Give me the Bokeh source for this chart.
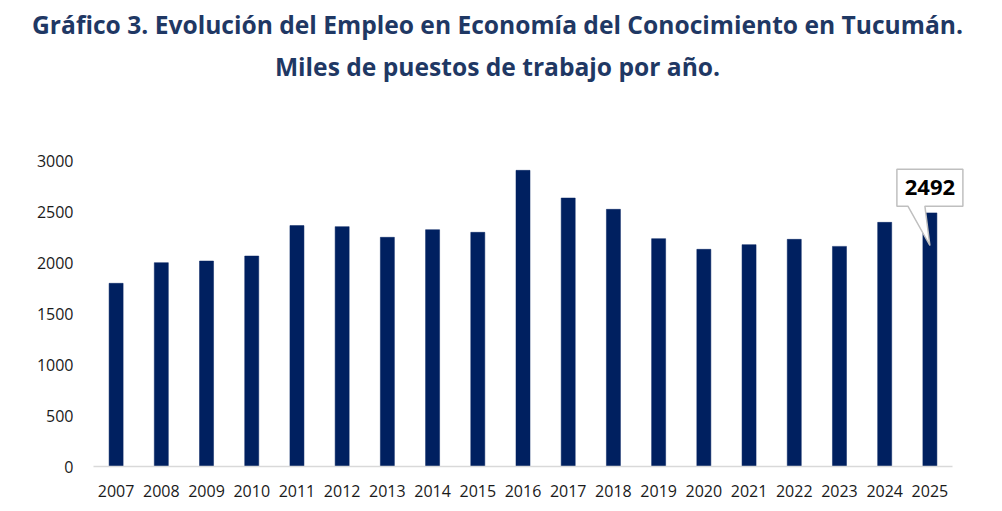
from bokeh.plotting import figure
from bokeh.models import Range1d, FixedTicker, Label, ColumnDataSource, CustomJSTickFormatter, Div
from bokeh.layouts import column
from bokeh.embed import file_html
from bokeh.resources import INLINE

# ---- data ----
years = ["2007", "2008", "2009", "2010", "2011", "2012", "2013", "2014", "2015", "2016",
         "2017", "2018", "2019", "2020", "2021", "2022", "2023", "2024", "2025"]
values = [1800, 2003, 2019, 2068, 2367, 2357, 2252, 2327, 2301, 2910,
          2638, 2527, 2239, 2134, 2180, 2232, 2163, 2399, 2492]
y_ticks = [0, 500, 1000, 1500, 2000, 2500, 3000]
title_line1 = "Gráfico 3. Evolución del Empleo en Economía del Conocimiento en Tucumán."
title_line2 = "Miles de puestos de trabajo por año."
callout_year = "2025"

TITLE_COLOR = "#1F3864"
BAR_COLOR = "#002060"

# ---- layout ----
W, H = 1002, 511
TITLE_H = 95
CH = H - TITLE_H
LEFT, BOTTOM = 93, 45
frame_h = CH - BOTTOM
px_per_unit = 305.3 / 3000.0
y_end = frame_h / px_per_unit
px_per_cat = 859.0 / len(years)
x_end = (W - LEFT) / px_per_cat

# ---- title (HTML text) ----
title_html = (
    '<div style="box-sizing:border-box;width:995px;margin:0;padding-top:3.9px;'
    'text-align:center;font-family:\'Open Sans\';font-weight:bold;font-size:24.6px;'
    'line-height:41.7px;color:%s;white-space:nowrap;">%s<br>%s</div>'
    % (TITLE_COLOR, title_line1, title_line2)
)
t = Div(text=title_html, width=W, height=TITLE_H, margin=0)

# ---- chart ----
p = figure(width=W, height=CH,
           x_range=Range1d(0, x_end), y_range=Range1d(0, y_end),
           output_backend="svg", toolbar_location=None,
           min_border_left=LEFT, min_border_right=0,
           min_border_top=0, min_border_bottom=BOTTOM)
p.outline_line_color = None
p.xgrid.grid_line_color = None
p.ygrid.grid_line_color = None

xs_center = [i + 0.5 for i in range(len(years))]
src = ColumnDataSource(dict(x=xs_center, value=values, year=years))
p.vbar(x="x", top="value", width=0.31, source=src,
       fill_color=BAR_COLOR, line_color=BAR_COLOR, line_width=0.5)

# axes
p.yaxis.ticker = FixedTicker(ticks=y_ticks)
p.yaxis.axis_line_color = None
p.yaxis.major_tick_line_color = None
p.yaxis.minor_tick_line_color = None
p.yaxis.major_label_text_font = "Open Sans"
p.yaxis.major_label_text_font_size = "16px"
p.yaxis.major_label_text_color = "#1a1a1a"
p.yaxis.major_label_standoff = 14

p.xaxis.ticker = FixedTicker(ticks=xs_center)
p.xaxis.formatter = CustomJSTickFormatter(args=dict(labels=years),
                                          code="return labels[Math.floor(tick)];")
p.xaxis.bounds = (0, len(years))
p.xaxis.axis_line_color = "#D9D9D9"
p.xaxis.axis_line_width = 1.5
p.xaxis.major_tick_line_color = None
p.xaxis.minor_tick_line_color = None
p.xaxis.major_label_text_font = "Open Sans"
p.xaxis.major_label_text_font_size = "16px"
p.xaxis.major_label_text_color = "#1a1a1a"
p.xaxis.major_label_standoff = 12


def ydata(py_overall):
    return (H - BOTTOM - py_overall) / px_per_unit


# callout for last year
idx = years.index(callout_year)
cx = idx + 0.5
bx0, bx1 = cx - 33 / px_per_cat, cx + 33 / px_per_cat
by_bot = ydata(205.7)
by_top = ydata(168.7)
tip_y = ydata(245)
xs = [bx0, cx - 22 / px_per_cat, cx, cx - 5 / px_per_cat, bx1, bx1, bx0]
ys = [by_bot, by_bot, tip_y, by_bot, by_bot, by_top, by_top]
p.patch(xs, ys, fill_color="white", line_color="#BFBFBF", line_width=1.5)
p.add_layout(Label(x=cx, y=(by_bot + by_top) / 2, text=str(values[idx]),
                   text_align="center", text_baseline="middle",
                   text_font="Open Sans", text_font_style="bold",
                   text_font_size="22px", text_color="#000000"))

layout = column(t, p, spacing=0)
open("out.html", "w").write(file_html(layout, INLINE))
